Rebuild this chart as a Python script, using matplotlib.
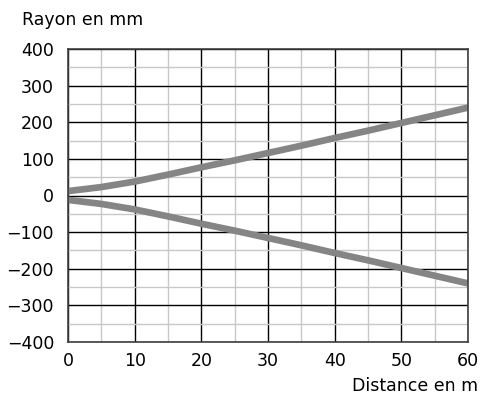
import matplotlib
matplotlib.use("Agg")
import matplotlib.pyplot as plt
from matplotlib.ticker import MultipleLocator

# Data
distance = [0, 5, 10, 15, 20, 25, 30, 35, 40, 45, 50, 55, 60]
rayon_haut = [12, 23, 38, 57, 77, 96, 116, 136, 157, 177, 198, 219, 240]
rayon_bas = [-12, -23, -38, -57, -77, -96, -116, -136, -157, -177, -198, -219, -240]

plt.rcParams['font.family'] = ['DejaVu Sans']

fig = plt.figure(figsize=(4.81, 3.98), dpi=100)
ax = fig.add_axes([68 / 481, 56 / 398, 400 / 481, 293 / 398])

# Grid: light minor lines, black major lines
ax.xaxis.set_major_locator(MultipleLocator(10))
ax.xaxis.set_minor_locator(MultipleLocator(5))
ax.yaxis.set_major_locator(MultipleLocator(100))
ax.yaxis.set_minor_locator(MultipleLocator(50))
ax.grid(which='minor', color='#c8c8c8', linewidth=1.0)
ax.grid(which='major', color='#000000', linewidth=1.0)
ax.set_axisbelow(True)

ax.plot(distance, rayon_haut, color='#858585', linewidth=4.8, solid_capstyle='butt')
ax.plot(distance, rayon_bas, color='#858585', linewidth=4.8, solid_capstyle='butt')

ax.set_xlim(0, 60)
ax.set_ylim(-400, 400)

for s in ax.spines.values():
    s.set_color('#404040')
    s.set_linewidth(1.2)

ax.tick_params(which='both', length=0, labelsize=12.5, colors='#000000')
ax.tick_params(axis='y', pad=10)
ax.tick_params(axis='x', pad=7)

fig.text(22 / 481, 1 - 20 / 398, 'Rayon en mm', fontsize=12.5, ha='left', va='center')
fig.text(478 / 481, 1 - 386 / 398, 'Distance en m', fontsize=12.5, ha='right', va='center')

fig.savefig('out.png', dpi=100)
